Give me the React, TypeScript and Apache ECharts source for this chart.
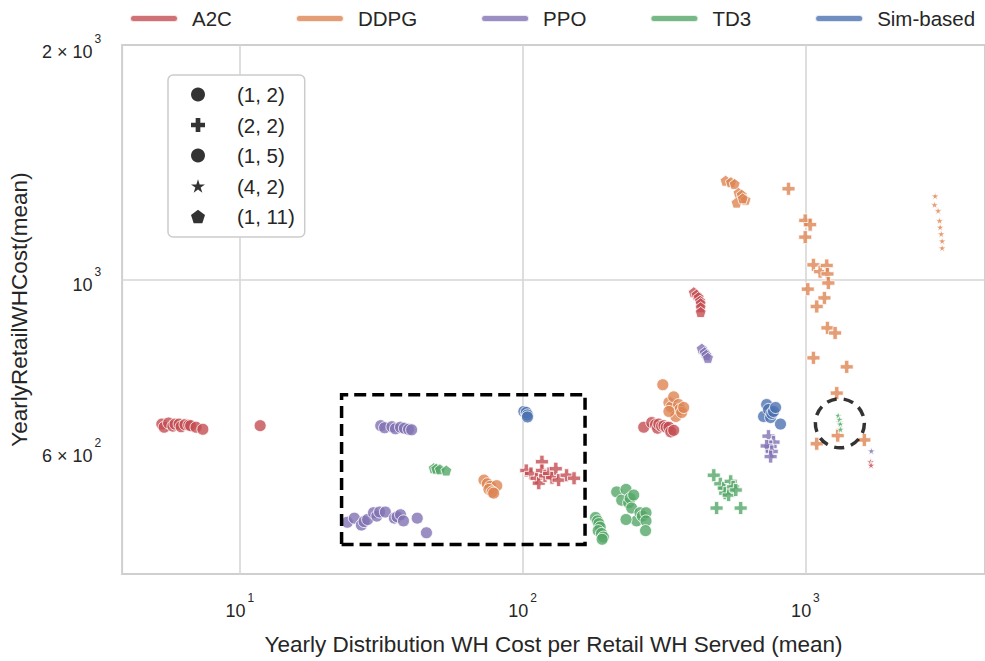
import React, { useEffect, useRef } from 'react';
import * as echarts from 'echarts';

const algorithms = ['A2C', 'DDPG', 'PPO', 'TD3', 'Sim-based'];
const algoColors = ['#c44e52', '#dd8452', '#8172b3', '#55a868', '#4c72b0'];
const styleLabels = ['(1, 2)', '(2, 2)', '(1, 5)', '(4, 2)', '(1, 11)'];

const xTickValues = [10, 100, 1000];
const yTickValues = [600, 1000, 2000];
const xGridValues = [10, 100, 1000];
const yGridValues = [1000];
const xExtent = [3.836, 4313];
const yExtent = [416.6, 2013];

const highlightBoxX = [22.9, 166.2];
const highlightBoxY = [455, 710.6];
const highlightCircle = [1323, 652.5];

// A2C
const a2c_1_2 = [[5.3, 651], [5.4, 645], [5.6, 653], [5.8, 647], [5.9, 651], [6.1, 651], [6.2, 646], [6.4, 650], [6.6, 649], [6.7, 648], [7.0, 645], [7.4, 641], [11.8, 648]];
const a2c_2_2 = [[103, 567], [107, 562], [112, 554], [114, 546], [117, 582], [117, 567], [120, 558], [124, 562], [127, 555], [131, 570], [134, 551], [143, 559], [152, 554]];
const a2c_1_5 = [[268, 645], [286, 654], [295, 650], [300, 643], [303, 651], [310, 647], [316, 648], [322, 645], [329, 645], [334, 636], [342, 639]];
const a2c_4_2 = [[1700, 582], [1705, 576]];
const a2c_1_11 = [[403, 964], [412, 957], [419, 950], [424, 940], [426, 933], [426, 922], [426, 909]];

// DDPG
const ddpg_1_2 = [[73, 551], [75, 545], [77, 541], [81, 542], [76, 536], [78, 532], [79, 530]];
const ddpg_2_2 = [[871, 1312], [998, 1194], [1039, 1179], [998, 1136], [1067, 1046], [1127, 1025], [1189, 1044], [1196, 1018], [1205, 991], [1019, 973], [1167, 948], [1096, 924], [1196, 867], [1273, 854], [1067, 793], [1399, 772], [1290, 714], [1300, 629], [1096, 614], [1615, 621]];
const ddpg_1_5 = [[313, 732], [329, 694], [335, 685], [342, 706], [348, 666], [356, 690], [360, 680], [365, 674], [371, 684], [329, 676]];
const ddpg_4_2 = [[2874, 1284], [2860, 1251], [2945, 1229], [2980, 1193], [2994, 1170], [3020, 1147], [3043, 1123], [3043, 1100]];
const ddpg_1_11 = [[522, 1344], [545, 1338], [562, 1331], [580, 1296], [595, 1289], [571, 1259], [614, 1270], [600, 1275]];

// PPO
const ppo_1_2 = [[31.5, 648], [32.5, 644], [34.5, 646], [35.5, 642], [37, 645], [38.2, 643], [39.5, 641], [40.5, 640]];
const ppo_2_2 = [[740, 628], [771, 617], [753, 609], [729, 610], [760, 600], [753, 591]];
const ppo_1_5 = [[24.0, 486], [25.4, 492], [26.9, 482], [27.5, 487], [28.3, 490], [29.7, 500], [30.5, 495], [31.2, 501], [32.7, 501], [35.2, 492], [36, 494], [37.0, 497], [37.9, 488], [42.4, 492], [45.7, 471]];
const ppo_4_2 = [[1709, 601]];
const ppo_1_11 = [[430, 815], [440, 806], [446, 800], [452, 793]];

// TD3
const td3_1_2 = [[181, 493], [184, 488], [186, 484], [188, 479], [185, 474], [190, 470], [193, 465], [191, 462]];
const td3_2_2 = [[474, 559], [500, 545], [514, 538], [520, 530], [535, 527], [544, 549], [555, 540], [567, 535], [485, 507], [590, 507]];
const td3_1_5 = [[215, 532], [224, 519], [232, 536], [237, 515], [240, 522], [243, 507], [247, 527], [253, 488], [260, 500], [265, 495], [273, 500], [232, 490], [273, 488], [272, 474]];
const td3_4_2 = [[1305, 668], [1318, 655], [1320, 660], [1328, 651], [1330, 641]];
const td3_1_11 = [[48.5, 571], [49.5, 570], [51, 569], [53.7, 567]];

// Sim-based
const sim_1_2 = [[101, 676], [103, 674], [104, 669], [104, 665]];
const sim_1_5 = [[711, 666], [729, 690], [740, 680], [753, 664], [760, 672], [771, 676], [784, 684], [816, 651]];

const groups: Record<string, number[][][]> = {
  'A2C': [a2c_1_2, a2c_2_2, a2c_1_5, a2c_4_2, a2c_1_11],
  'DDPG': [ddpg_1_2, ddpg_2_2, ddpg_1_5, ddpg_4_2, ddpg_1_11],
  'PPO': [ppo_1_2, ppo_2_2, ppo_1_5, ppo_4_2, ppo_1_11],
  'TD3': [td3_1_2, td3_2_2, td3_1_5, td3_4_2, td3_1_11],
  'Sim-based': [sim_1_2, [], sim_1_5, [], []],
};

const PLUS = 'path://M-1,-3L1,-3L1,-1L3,-1L3,1L1,1L1,3L-1,3L-1,1L-3,1L-3,-1L-1,-1Z';
const STAR = 'path://M0,-1L0.2245,-0.309L0.951,-0.309L0.3633,0.118L0.588,0.809L0,0.382L-0.588,0.809L-0.3633,0.118L-0.951,-0.309L-0.2245,-0.309Z';
const PENT = 'path://M0,-1L0.951,-0.309L0.588,0.809L-0.588,0.809L-0.951,-0.309Z';
const LINE_ICON = 'path://M3.5,0L44.5,0A3.5,3.5,0,0,1,44.5,7L3.5,7A3.5,3.5,0,0,1,3.5,0Z';

export default function App() {
  const ref = useRef<HTMLDivElement>(null);
  useEffect(() => {
    const chart = echarts.init(ref.current as HTMLDivElement, null, { renderer: 'svg' });
    const lg = (v: number) => Math.log10(v);
    const font = "'Liberation Sans', Arial, Helvetica, sans-serif";
    const textColor = '#262626';
    const symbols = ['circle', PLUS, 'circle', STAR, PENT];
    const sizes = [12, 13, 12, 8, 11];

    const supLabel = (val: number) => {
      const exp = Math.floor(Math.log10(val) + 1e-9);
      const m = Math.round(val / Math.pow(10, exp));
      return m === 1 ? `{b|10}{s|${exp}}` : `{b|${m} × 10}{s|${exp}}`;
    };
    const rich = {
      b: { fontSize: 18, lineHeight: 28, verticalAlign: 'bottom', color: textColor, fontFamily: font },
      s: { fontSize: 12, lineHeight: 28, verticalAlign: 'top', color: textColor, fontFamily: font, padding: [0, 0, 0, 2] },
    };

    const series: any[] = algorithms.map((name, i) => ({
      type: 'scatter',
      name,
      z: 2,
      itemStyle: { color: algoColors[i], borderColor: '#ffffff', borderWidth: 1 },
      emphasis: { disabled: true },
      data: groups[name].flatMap((pts, j) =>
        pts.map((p) => ({ value: [lg(p[0]), lg(p[1])], symbol: symbols[j], symbolSize: sizes[j] }))
      ),
    }));

    styleLabels.forEach((name, j) => {
      series.push({ type: 'scatter', name, symbol: symbols[j], itemStyle: { color: '#000000' }, data: [] });
    });

    series.push({
      type: 'scatter',
      name: 'highlight',
      silent: true,
      z: 3,
      symbol: 'circle',
      symbolSize: 49,
      itemStyle: { color: 'rgba(0,0,0,0)', borderColor: '#000000', borderWidth: 3.5, borderType: [10, 7] },
      data: [{ value: [lg(highlightCircle[0]), lg(highlightCircle[1])] }],
      markLine: {
        silent: true,
        symbol: 'none',
        z: 1,
        label: { show: false },
        emphasis: { disabled: true },
        lineStyle: { color: '#d6d6d6', width: 1.6, type: 'solid' },
        data: [
          ...xGridValues.map((v) => ({ xAxis: lg(v) })),
          ...yGridValues.map((v) => ({ yAxis: lg(v) })),
        ],
      },
      markArea: {
        silent: true,
        z: 3,
        itemStyle: { color: 'rgba(0,0,0,0)', borderColor: '#000000', borderWidth: 3.5, borderType: [12, 6] },
        data: [[
          { xAxis: lg(highlightBoxX[0]), yAxis: lg(highlightBoxY[0]) },
          { xAxis: lg(highlightBoxX[1]), yAxis: lg(highlightBoxY[1]) },
        ]],
      },
    });

    const legendIcons = ['circle', PLUS, 'circle', STAR, PENT];

    chart.setOption({
      animation: false,
      textStyle: { fontFamily: font },
      grid: {
        left: 122, top: 45, width: 865, height: 537,
        show: true, borderColor: '#cfcfcf', borderWidth: 2, backgroundColor: '#ffffff',
      },
      legend: [
        {
          data: algorithms,
          icon: LINE_ICON,
          itemWidth: 48,
          itemHeight: 7,
          itemGap: 63,
          left: 124,
          top: 3,
          width: 900,
          selectedMode: false,
          textStyle: { fontSize: 20.5, color: textColor, padding: [0, 0, 0, 9] },
        },
        {
          orient: 'vertical',
          data: styleLabels.map((n, j) => ({ name: n, icon: legendIcons[j] })),
          left: 168,
          top: 75,
          itemWidth: 14,
          itemHeight: 14,
          itemGap: 9.5,
          padding: [9, 10, 10, 23],
          backgroundColor: '#ffffff',
          borderColor: '#cccccc',
          borderWidth: 1.5,
          borderRadius: 5,
          selectedMode: false,
          textStyle: { fontSize: 20.5, lineHeight: 20, color: textColor, padding: [0, 0, 0, 27] },
        },
      ],
      xAxis: {
        type: 'value',
        min: lg(xExtent[0]),
        max: lg(xExtent[1]),
        name: 'Yearly Distribution WH Cost per Retail WH Served (mean)',
        nameLocation: 'middle',
        nameGap: 59,
        nameTextStyle: { fontSize: 22.5, color: textColor },
        axisLine: { show: false },
        axisTick: { show: false },
        splitLine: { show: false },
        axisLabel: {
          customValues: xTickValues.map(lg),
          margin: 18,
          formatter: (v: number) => supLabel(Math.pow(10, v)),
          rich,
        },
      },
      yAxis: {
        type: 'value',
        min: lg(yExtent[0]),
        max: lg(yExtent[1]),
        name: 'YearlyRetailWHCost(mean)',
        nameLocation: 'middle',
        nameGap: 89,
        nameTextStyle: { fontSize: 22.5, color: textColor },
        axisLine: { show: false },
        axisTick: { show: false },
        splitLine: { show: false },
        axisLabel: {
          customValues: yTickValues.map(lg),
          margin: 21,
          formatter: (v: number) => supLabel(Math.pow(10, v)),
          rich,
        },
      },
      series,
    });
    return () => chart.dispose();
  }, []);
  return <div ref={ref} style={{ position: 'absolute', left: 0, top: 0, width: 985, height: 661 }} />;
}
